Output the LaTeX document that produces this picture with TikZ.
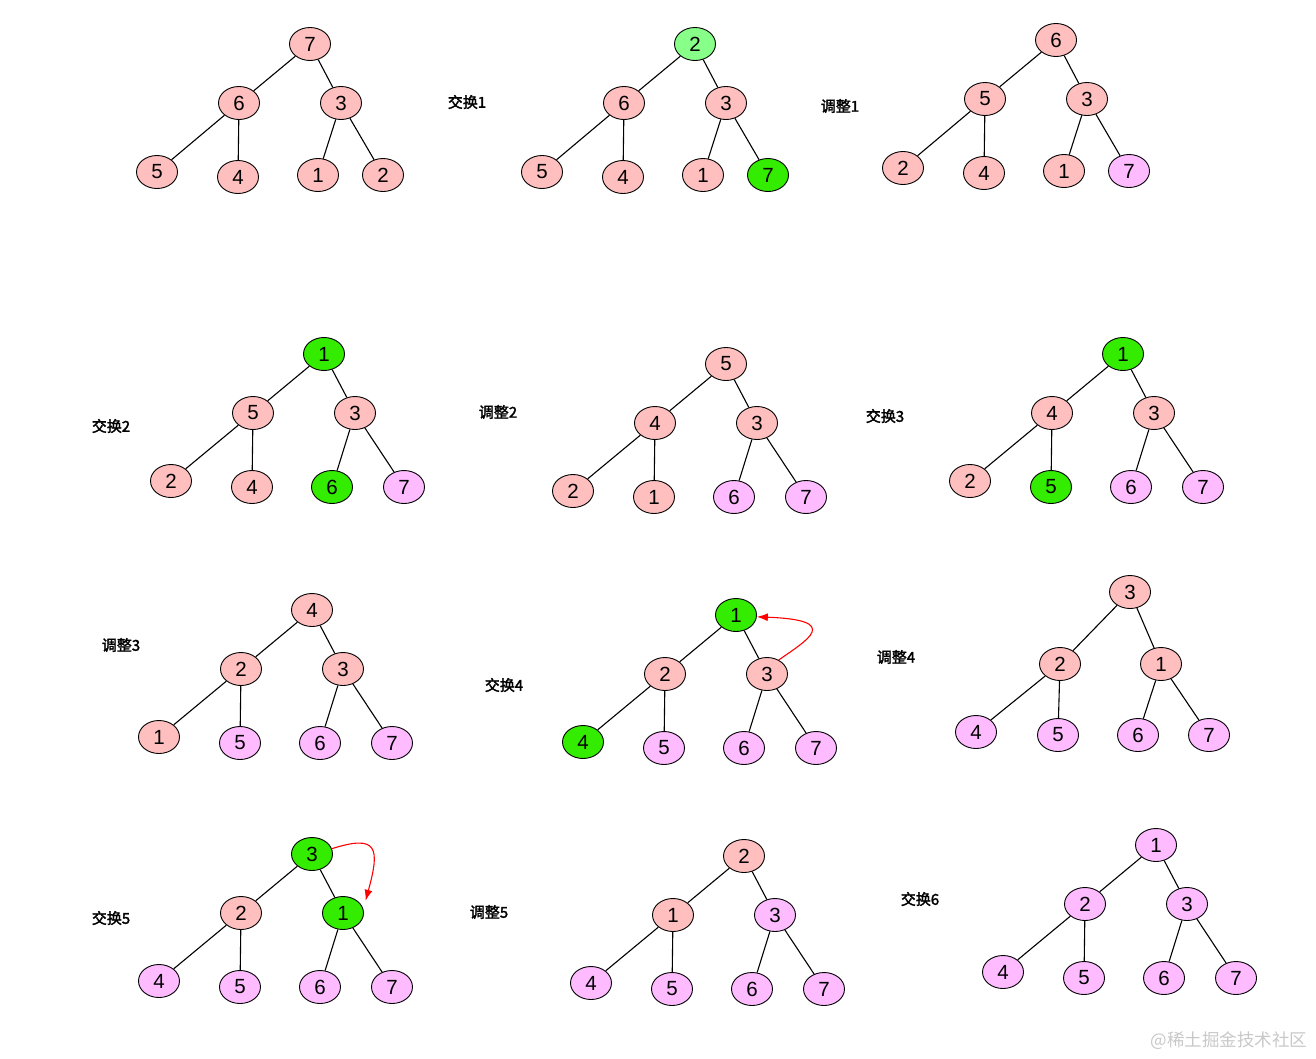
\documentclass[tikz,border=0pt]{standalone}
\usepackage{fontspec}
\setmainfont{Liberation Sans}
\newfontfamily\cjkb[FakeBold=2.2]{Noto Sans CJK SC}
\newfontfamily\cjk{Noto Sans CJK SC}
\usetikzlibrary{shapes.geometric,arrows.meta}
\definecolor{pinkc}{RGB}{255,191,191}
\definecolor{violetc}{RGB}{255,187,255}
\definecolor{greenc}{RGB}{51,236,0}
\definecolor{lgreenc}{RGB}{136,255,136}
\definecolor{wmgray}{RGB}{200,200,200}
\tikzset{
  hn/.style={ellipse,draw=black,line width=0.9pt,minimum width=41pt,minimum height=33pt,inner sep=0pt,font=\fontsize{20.5}{20.5}\selectfont},
  pk/.style={hn,fill=pinkc},
  vi/.style={hn,fill=violetc},
  gr/.style={hn,fill=greenc},
  lg/.style={hn,fill=lgreenc},
  tedge/.style={line width=1.1pt},
  lbl/.style={font=\cjkb\fontsize{15}{15}\selectfont},
  redarr/.style={red,line width=1.1pt,-{Latex[length=11pt,width=8pt]}},
}
\begin{document}
\begin{tikzpicture}[x=1pt,y=-1pt]
\useasboundingbox (0,0) rectangle (1316,1058);
% Tree a
\begin{scope}[shift={(310,44)}]
\node[pk] (a1) at (0,0) {7};
\node[pk] (a2) at (-71,59) {6};
\node[pk] (a3) at (31,59) {3};
\node[pk] (a4) at (-153,128) {5};
\node[pk] (a5) at (-72,133) {4};
\node[pk] (a6) at (8,131) {1};
\node[pk] (a7) at (73,131) {2};
\end{scope}
% Tree b
\begin{scope}[shift={(695,44)}]
\node[lg] (b1) at (0,0) {2};
\node[pk] (b2) at (-71,59) {6};
\node[pk] (b3) at (31,59) {3};
\node[pk] (b4) at (-153,128) {5};
\node[pk] (b5) at (-72,133) {4};
\node[pk] (b6) at (8,131) {1};
\node[gr] (b7) at (73,131) {7};
\end{scope}
% Tree c
\begin{scope}[shift={(1056,40)}]
\node[pk] (c1) at (0,0) {6};
\node[pk] (c2) at (-71,59) {5};
\node[pk] (c3) at (31,59) {3};
\node[pk] (c4) at (-153,128) {2};
\node[pk] (c5) at (-72,133) {4};
\node[pk] (c6) at (8,131) {1};
\node[vi] (c7) at (73,131) {7};
\end{scope}
% Tree d
\begin{scope}[shift={(324,354)}]
\node[gr] (d1) at (0,0) {1};
\node[pk] (d2) at (-71,59) {5};
\node[pk] (d3) at (31,59) {3};
\node[pk] (d4) at (-153,127) {2};
\node[pk] (d5) at (-72,133) {4};
\node[gr] (d6) at (8,133) {6};
\node[vi] (d7) at (80,133) {7};
\end{scope}
% Tree e
\begin{scope}[shift={(726,364)}]
\node[pk] (e1) at (0,0) {5};
\node[pk] (e2) at (-71,59) {4};
\node[pk] (e3) at (31,59) {3};
\node[pk] (e4) at (-153,127) {2};
\node[pk] (e5) at (-72,133) {1};
\node[vi] (e6) at (8,133) {6};
\node[vi] (e7) at (80,133) {7};
\end{scope}
% Tree f
\begin{scope}[shift={(1123,354)}]
\node[gr] (f1) at (0,0) {1};
\node[pk] (f2) at (-71,59) {4};
\node[pk] (f3) at (31,59) {3};
\node[pk] (f4) at (-153,127) {2};
\node[gr] (f5) at (-72,133) {5};
\node[vi] (f6) at (8,133) {6};
\node[vi] (f7) at (80,133) {7};
\end{scope}
% Tree g
\begin{scope}[shift={(312,610)}]
\node[pk] (g1) at (0,0) {4};
\node[pk] (g2) at (-71,59) {2};
\node[pk] (g3) at (31,59) {3};
\node[pk] (g4) at (-153,127) {1};
\node[vi] (g5) at (-72,133) {5};
\node[vi] (g6) at (8,133) {6};
\node[vi] (g7) at (80,133) {7};
\end{scope}
% Tree h
\begin{scope}[shift={(736,615)}]
\node[gr] (h1) at (0,0) {1};
\node[pk] (h2) at (-71,59) {2};
\node[pk] (h3) at (31,59) {3};
\node[gr] (h4) at (-153,127) {4};
\node[vi] (h5) at (-72,133) {5};
\node[vi] (h6) at (8,133) {6};
\node[vi] (h7) at (80,133) {7};
\end{scope}
% Tree i
\begin{scope}[shift={(1130,592)}]
\node[pk] (i1) at (0,0) {3};
\node[pk] (i2) at (-70,72) {2};
\node[pk] (i3) at (31,72) {1};
\node[vi] (i4) at (-154,140) {4};
\node[vi] (i5) at (-72,143) {5};
\node[vi] (i6) at (8,143) {6};
\node[vi] (i7) at (79,143) {7};
\end{scope}
% Tree j
\begin{scope}[shift={(312,854)}]
\node[gr] (j1) at (0,0) {3};
\node[pk] (j2) at (-71,59) {2};
\node[gr] (j3) at (31,59) {1};
\node[vi] (j4) at (-153,127) {4};
\node[vi] (j5) at (-72,133) {5};
\node[vi] (j6) at (8,133) {6};
\node[vi] (j7) at (80,133) {7};
\end{scope}
% Tree k
\begin{scope}[shift={(744,856)}]
\node[pk] (k1) at (0,0) {2};
\node[pk] (k2) at (-71,59) {1};
\node[vi] (k3) at (31,59) {3};
\node[vi] (k4) at (-153,127) {4};
\node[vi] (k5) at (-72,133) {5};
\node[vi] (k6) at (8,133) {6};
\node[vi] (k7) at (80,133) {7};
\end{scope}
% Tree l
\begin{scope}[shift={(1156,845)}]
\node[vi] (l1) at (0,0) {1};
\node[vi] (l2) at (-71,59) {2};
\node[vi] (l3) at (31,59) {3};
\node[vi] (l4) at (-153,127) {4};
\node[vi] (l5) at (-72,133) {5};
\node[vi] (l6) at (8,133) {6};
\node[vi] (l7) at (80,133) {7};
\end{scope}
% edges
\foreach \t in {a,b,c,d,e,f,g,h,i,j,k,l}{
  \draw[tedge] (\t1)--(\t2) (\t1)--(\t3) (\t2)--(\t4) (\t2)--(\t5) (\t3)--(\t6) (\t3)--(\t7);
}
% red arrows
\draw[redarr] (h3.50) .. controls (807,640) and (843,620) .. (h1.-5);
\draw[redarr] (j1.15) .. controls (378,834) and (380,848) .. ([xshift=8pt]j3.40);
% labels
\node[lbl] (t1) at (467,102) {交换1};
\node[lbl] (t2) at (840,106) {调整1};
\node[lbl] (t3) at (111,426) {交换2};
\node[lbl] (t4) at (498,412) {调整2};
\node[lbl] (t5) at (885,416) {交换3};
\node[lbl] (t6) at (121,645) {调整3};
\node[lbl] (t7) at (504,685) {交换4};
\node[lbl] (t8) at (896,657) {调整4};
\node[lbl] (t9) at (111,918) {交换5};
\node[lbl] (t10) at (489,912) {调整5};
\node[lbl] (t11) at (920,899) {交换6};
\node[font=\cjk\fontsize{17.5}{17.5}\selectfont,text=wmgray] (wm) at (1229,1041) {@稀土掘金技术社区};
\end{tikzpicture}
\end{document}
